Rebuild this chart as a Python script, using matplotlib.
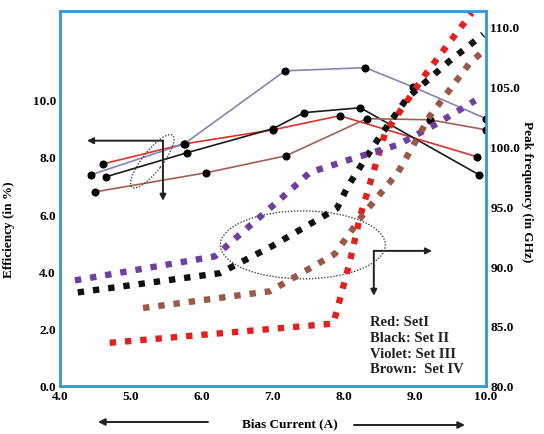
import numpy as np
import matplotlib
matplotlib.use("Agg")
import matplotlib.pyplot as plt
from matplotlib.patches import Ellipse, FancyArrowPatch
from matplotlib.transforms import ScaledTranslation

# -------------------------------------------------------
# data
# -------------------------------------------------------
# efficiency (left axis, %)
eff_red_x = [4.61, 5.76, 7.00, 7.94, 9.87]
eff_red_y = [7.76, 8.46, 8.95, 9.44, 8.01]
eff_black_x = [4.65, 5.79, 7.00, 7.44, 8.23, 9.90]
eff_black_y = [7.31, 8.15, 8.99, 9.55, 9.72, 7.38]
eff_violet_x = [4.44, 5.75, 7.17, 8.30, 8.97, 10.0]
eff_violet_y = [7.38, 8.46, 11.01, 11.12, 10.45, 9.34]
eff_brown_x = [4.49, 6.06, 7.18, 8.32, 9.21, 10.0]
eff_brown_y = [6.78, 7.45, 8.04, 9.34, 9.30, 8.95]

# peak frequency (right axis, GHz)
pf_red_x = [4.70, 7.85, 8.08, 8.23, 8.58, 9.15, 9.80]
pf_red_y = [83.6, 85.2, 90.3, 94.2, 101.1, 106.0, 111.1]
pf_black_x = [4.25, 6.25, 7.00, 7.90, 8.06, 8.46, 8.89, 9.49, 9.96]
pf_black_y = [87.8, 89.4, 91.7, 94.8, 96.7, 100.4, 104.0, 107.1, 109.3]
pf_violet_x = [4.21, 6.18, 7.07, 7.52, 8.15, 8.76, 9.32, 9.85]
pf_violet_y = [88.8, 90.8, 95.4, 97.8, 99.0, 100.1, 101.9, 103.8]
pf_brown_x = [5.17, 6.96, 7.87, 8.27, 8.76, 9.21, 9.77, 9.96]
pf_brown_y = [86.5, 87.9, 91.0, 94.3, 97.8, 102.5, 106.9, 107.9]

x_ticks = [4, 5, 6, 7, 8, 9, 10]
left_ticks = [0, 2, 4, 6, 8, 10]
right_ticks = [80, 85, 90, 95, 100, 105, 110]
legend_lines = ["Red: SetI", "Black: Set II", "Violet: Set III", "Brown:  Set IV"]

# -------------------------------------------------------
# style
# -------------------------------------------------------
plt.rcParams['font.family'] = ['Liberation Serif', 'DejaVu Serif']
plt.rcParams['font.weight'] = 'bold'

C_RED = '#e3201c'
C_BLACK = '#111111'
C_VIOLET = '#6f3fa0'
C_BROWN = '#9a5846'
C_SPINE = '#3a9ad0'

fig = plt.figure(figsize=(5.44, 4.35), dpi=100)
ax = fig.add_axes([60 / 544, 1 - 387 / 435, 426 / 544, 375 / 435])
ax2 = ax.twinx()

# solid efficiency lines
solid = [
    (eff_red_x, eff_red_y, '#e0302a'),
    (eff_black_x, eff_black_y, '#1a1a1a'),
    (eff_violet_x, eff_violet_y, '#8585b5'),
    (eff_brown_x, eff_brown_y, '#a45e52'),
]
for xs, ys, col in solid:
    ax.plot(xs, ys, color=col, lw=1.2, marker='o', ms=4.8,
            mfc='black', mec='black', zorder=3)

# thick dotted peak-frequency lines
dotted = [
    (pf_red_x, pf_red_y, C_RED),
    (pf_black_x, pf_black_y, C_BLACK),
    (pf_violet_x, pf_violet_y, C_VIOLET),
    (pf_brown_x, pf_brown_y, C_BROWN),
]
for xs, ys, col in dotted:
    ax2.plot(xs, ys, color=col, lw=4.6, linestyle=(0, (1.0, 1.4)),
             dash_capstyle='butt', solid_capstyle='butt', zorder=2)

# axes limits / ticks
ax.set_xlim(4, 10)
ax.set_ylim(0, 13.1)
ax2.set_ylim(80, 111.25)
ax.set_xticks(x_ticks)
ax.set_xticklabels([f"{v:.1f}" for v in x_ticks], fontsize=9.5, fontweight='bold')
ax.set_yticks(left_ticks)
ax.set_yticklabels([f"{v:.1f}" for v in left_ticks], fontsize=9.5, fontweight='bold')
ax2.set_yticks(right_ticks)
ax2.set_yticklabels([f"{v:.1f}" for v in right_ticks], fontsize=9.5, fontweight='bold')
ax.tick_params(length=0, pad=3)
ax2.tick_params(length=0, pad=3)

for a in (ax, ax2):
    for sp in a.spines.values():
        sp.set_color(C_SPINE)
        sp.set_linewidth(1.8)

ax.set_ylabel("Efficiency (in %)", fontsize=9.5, fontweight='bold')
ax2.set_ylabel("Peak frequency (in GHz)", fontsize=9.5, fontweight='bold',
               rotation=-90)
ax.yaxis.set_label_coords(-0.105, 0.42)
ax2.yaxis.set_label_coords(1.11, 0.52)

# dotted ellipses (drawn in inches so the angle is kept)
def add_ellipse(x, y, w, h, angle):
    tr = fig.dpi_scale_trans + ScaledTranslation(x, y, ax.transData)
    e = Ellipse((0, 0), w, h, angle=angle, fill=False, ls=(0, (1, 1.2)),
                lw=1.0, ec='#444444', transform=tr, zorder=4)
    ax.add_patch(e)

add_ellipse(5.30, 7.85, 0.66, 0.20, 52)
add_ellipse(7.42, 4.93, 1.65, 0.68, 0)

# elbow arrows
arrow_kw = dict(arrowstyle='-|>', lw=1.4, color='#222222', mutation_scale=9,
                shrinkA=0, shrinkB=0)
ax.annotate("", xy=(4.38, 8.57), xytext=(5.45, 8.57), arrowprops=arrow_kw)
ax.annotate("", xy=(5.45, 6.47), xytext=(5.45, 8.57), arrowprops=arrow_kw)
ax.annotate("", xy=(9.24, 4.72), xytext=(8.42, 4.72), arrowprops=arrow_kw)
ax.annotate("", xy=(8.42, 3.15), xytext=(8.42, 4.72), arrowprops=arrow_kw)

# set legend text
for i, line in enumerate(legend_lines):
    ax.text(8.37, 2.24 - i * 0.545, line, fontsize=10.5, fontweight='heavy',
            color='#222222', va='center', ha='left')

# bias current label with arrows
fig.text(290 / 544, 1 - 424 / 435, "Bias Current (A)", fontsize=9.5,
         fontweight='bold', ha='center', va='center')
fig_kw = dict(arrowstyle='-|>', lw=1.4, color='#222222', mutation_scale=10,
              shrinkA=0, shrinkB=0)
fig.add_artist(FancyArrowPatch(
    (208 / 544, 1 - 423 / 435), (98 / 544, 1 - 423 / 435),
    transform=fig.transFigure, **fig_kw))
fig.add_artist(FancyArrowPatch(
    (354 / 544, 1 - 426 / 435), (465 / 544, 1 - 426 / 435),
    transform=fig.transFigure, **fig_kw))

fig.savefig("out.png", dpi=100)
